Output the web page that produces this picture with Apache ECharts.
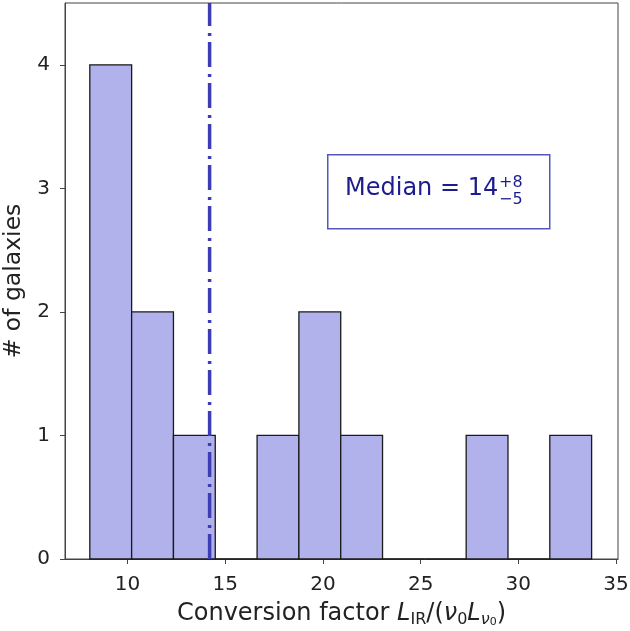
<!DOCTYPE html>
<html>
<head>
<meta charset="utf-8">
<script src="https://cdn.jsdelivr.net/npm/echarts@6/dist/echarts.min.js"></script>
<style>html,body{margin:0;padding:0;background:#fff}#c{width:630px;height:631px}</style>
</head>
<body>
<div id="c"></div>
<script>
const binEdges = [8.07, 10.21, 12.35, 14.49, 16.63, 18.77, 20.91, 23.05, 25.19, 27.33, 29.47, 31.61, 33.75];
const counts = [4, 2, 1, 0, 1, 2, 1, 0, 0, 1, 0, 1];
const medianValue = 14.2;
const xTickValues = [10, 15, 20, 25, 30, 35];
const yTickValues = [0, 1, 2, 3, 4];
const yRange = [0, 4.5];

const FONT = 'DejaVu Sans';
const chart = echarts.init(document.getElementById('c'), null, {renderer: 'canvas'});
const histData = counts.map((c, i) => [binEdges[i], binEdges[i + 1], c]);

chart.setOption({
  animation: false,
  backgroundColor: '#fff',
  grid: {left: 65, right: 12, top: 3, bottom: 72, containLabel: false, outerBoundsMode: 'none',
         show: true, borderColor: '#444', borderWidth: 1, backgroundColor: 'transparent'},
  xAxis: {
    type: 'value', min: 6.8, max: 35.1,
    name: 'Conversion factor {i|L}{sub|IR}/({i|ν}{sub|0}{i|L}{subi|ν}{subsub|0})',
    nameLocation: 'middle', nameGap: 41,
    nameTextStyle: {
      fontFamily: FONT, fontSize: 24, color: '#222', lineHeight: 28,
      rich: {
        i: {fontFamily: FONT, fontSize: 24, fontStyle: 'italic', color: '#222', lineHeight: 28},
        sub: {fontFamily: FONT, fontSize: 16, color: '#222', lineHeight: 16, verticalAlign: 'bottom', padding: [9, 0, 0, 0]},
        subi: {fontFamily: FONT, fontSize: 16, fontStyle: 'italic', color: '#222', lineHeight: 16, verticalAlign: 'bottom', padding: [9, 0, 0, 0]},
        subsub: {fontFamily: FONT, fontSize: 11, color: '#222', lineHeight: 11, verticalAlign: 'bottom', padding: [14, 0, 0, 0]}
      }
    },
    axisLine: {show: true, lineStyle: {color: '#444', width: 1}},
    axisTick: {show: true, length: 5, inside: false, customValues: xTickValues, lineStyle: {color: '#444'}},
    axisLabel: {customValues: xTickValues, fontFamily: FONT, fontSize: 20, color: '#222', margin: 16},
    splitLine: {show: false}
  },
  yAxis: {
    type: 'value', min: yRange[0], max: yRange[1],
    name: '# of galaxies', nameLocation: 'middle', nameGap: 34,
    nameTextStyle: {fontFamily: FONT, fontSize: 23.5, color: '#222'},
    axisLine: {show: true, lineStyle: {color: '#444', width: 1}},
    axisTick: {show: true, length: 5, inside: false, customValues: yTickValues, lineStyle: {color: '#444'}},
    axisLabel: {customValues: yTickValues, fontFamily: FONT, fontSize: 20, color: '#222', margin: 15},
    splitLine: {show: false}
  },
  series: [{
    type: 'custom',
    data: histData,
    encode: {x: [0, 1], y: 2},
    renderItem: function (params, api) {
      const p0 = api.coord([api.value(0), api.value(2)]);
      const p1 = api.coord([api.value(1), 0]);
      return {
        type: 'rect',
        shape: {x: p0[0], y: p0[1], width: p1[0] - p0[0], height: p1[1] - p0[1]},
        style: {fill: '#b1b1ec', stroke: '#1a1a1a', lineWidth: 1.3}
      };
    },
    z: 2
  }, {
    type: 'line',
    data: [[medianValue, yRange[0]], [medianValue, yRange[1]]],
    symbol: 'none', silent: true,
    lineStyle: {color: '#3c3cb4', width: 3.5, type: [25, 6, 3, 7], cap: 'butt'},
    z: 8
  }],
  graphic: [
    {type: 'rect', left: 327, top: 154, shape: {width: 222, height: 74}, style: {fill: '#fff', stroke: '#5656bb', lineWidth: 1.5}, z: 10},
    {type: 'text', left: 345, top: 177, style: {text: 'Median = 14', font: '24px "DejaVu Sans"', fill: '#1c1c8e'}, z: 11},
    {type: 'text', left: 499, top: 175, style: {text: '+8', font: '16px "DejaVu Sans"', fill: '#1c1c8e'}, z: 11},
    {type: 'text', left: 499, top: 192, style: {text: '\u22125', font: '16px "DejaVu Sans"', fill: '#1c1c8e'}, z: 11}
  ]
});
</script>
</body>
</html>
